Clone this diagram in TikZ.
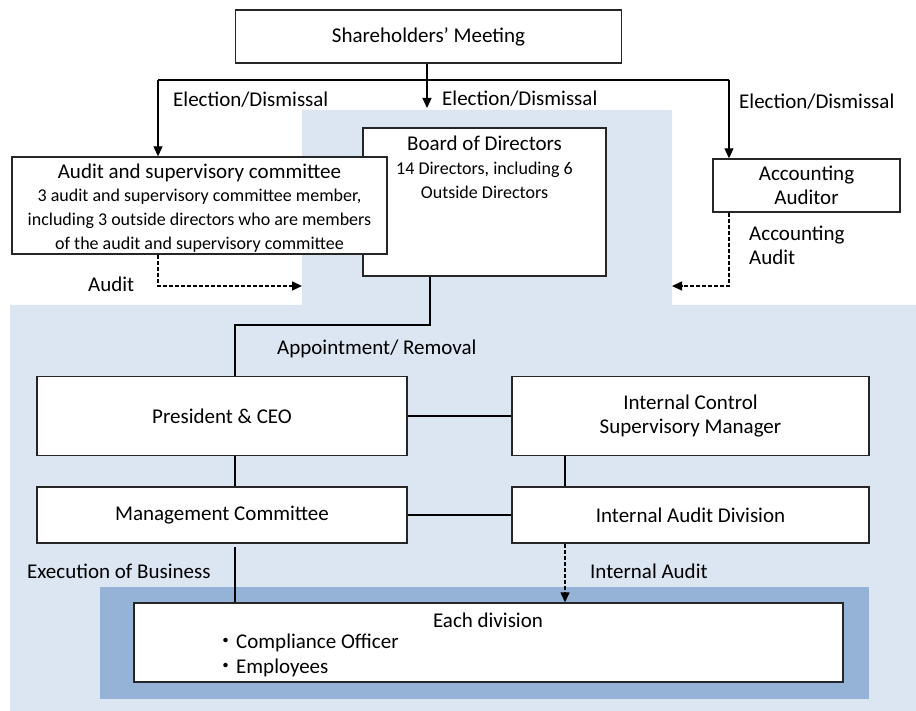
\documentclass[tikz,border=0pt]{standalone}
\usepackage{fontspec}
\setmainfont{Carlito}
\newfontfamily\cjk{Noto Sans CJK JP}
\usetikzlibrary{arrows.meta}
\definecolor{paleblue}{HTML}{DCE6F2}
\definecolor{midblue}{HTML}{95B3D7}
\begin{document}
\begin{tikzpicture}[x=1pt,y=-1pt,
  box/.style={draw=black!85, line width=1.4pt, fill=white, inner sep=0pt},
  conn/.style={line width=1.1pt},
  arr/.style={conn, -{Triangle[width=9pt,length=10pt]}},
  darr/.style={arr, line width=1.4pt, dash pattern=on 4pt off 2pt},
  big/.style={font=\fontsize{21}{24}\selectfont},
  small/.style={font=\fontsize{18}{24}\selectfont},
  lbl/.style={big, inner sep=0pt, anchor=west},
  txt/.style={inner sep=0pt, align=center}
]
\useasboundingbox (0,0) rectangle (916,711);

% shaded areas
\fill[paleblue] (302,110) -- (672,110) -- (672,305) -- (916,305) -- (916,711)
  -- (10,711) -- (10,305) -- (302,305) -- cycle;
\fill[midblue] (100,587) rectangle (869,699);

% boxes
\node[box, big, minimum width=386pt, minimum height=53pt] (sh) at (428.5,36.5) {Shareholders’ Meeting};

\node[box, minimum width=243pt, minimum height=148pt] (board) at (484.5,202) {};
\node[txt, big] (boardttl) at (484.5,143) {Board of Directors};
\node[txt, small] (boardsub) at (484.5,180) {14 Directors, including 6\\Outside Directors};

\node[box, minimum width=375pt, minimum height=97pt] (audit) at (199.5,205.5) {};
\node[txt, big] (auditttl) at (199.5,173) {Audit and supervisory committee};
\node[txt, small] (auditsub) at (199.5,221) {3 audit and supervisory committee member,\\including 3 outside directors who are members\\of the audit and supervisory committee};

\node[box, big, align=center, minimum width=187pt, minimum height=53pt] (acc) at (806.5,185.5) {Accounting\\Auditor};

\node[box, big, minimum width=370pt, minimum height=79pt] (pres) at (222,416) {President \& CEO};
\node[box, big, align=center, minimum width=357pt, minimum height=79pt] (icsm) at (690.5,416) {Internal Control\\Supervisory Manager};
\node[box, big, minimum width=370pt, minimum height=56pt] (mgmt) at (222,515) {Management Committee};
\node[box, big, minimum width=357pt, minimum height=56pt] (iad) at (690.5,515) {Internal Audit Division};

\node[box, minimum width=709pt, minimum height=79pt] (div) at (488.5,642.5) {};
\node[txt, big] (divttl) at (488,620) {Each division};
\node[lbl] (divco) at (215,643) {{\cjk ・}Compliance Officer};
\node[lbl] (divemp) at (215,668) {{\cjk ・}Employees};

% routing points
\coordinate (busL) at (158,80);
\coordinate (busR) at (729,80);
\coordinate (bdin) at (427,108);
\coordinate (auditTip) at (302,286);
\coordinate (accTip) at (672,286);
\coordinate (bd) at (430,325);
\coordinate (pd) at (235,325);
\coordinate (ia) at (565,571);
\coordinate (exe) at (235,547);

% election / dismissal
\draw[conn] (busL) -- (busR);
\draw[arr] (sh.south -| bdin) -- (bdin);
\draw[arr] (busL) -- (busL |- audit.north);
\draw[arr] (busR) -- (busR |- acc.north);

% audits
\draw[darr] (audit.south -| busL) -- (busL |- auditTip) -- (auditTip);
\draw[darr] (acc.south -| busR) -- (busR |- accTip) -- (accTip);

% appointment and execution lines
\draw[conn] (board.south -| bd) -- (bd) -- (pd) -- (pd |- pres.north);
\draw[conn] (pres.east) -- (pres.east -| icsm.west);
\draw[conn] (pres.south -| pd) -- (mgmt.north -| pd);
\draw[conn] (icsm.south -| ia) -- (iad.north -| ia);
\draw[conn] (mgmt.east) -- (iad.west);
\draw[conn] (exe) -- (exe |- div.north);
\draw[darr] (iad.south -| ia) -- (div.north -| ia);

% labels
\node[lbl] (el1) at (173,100) {Election/Dismissal};
\node[lbl] (el2) at (442,99) {Election/Dismissal};
\node[lbl] (el3) at (739,102) {Election/Dismissal};
\node[lbl] (auditlbl) at (88,284) {Audit};
\node[lbl, align=left] (acclbl) at (749,245) {Accounting\\Audit};
\node[lbl] (applbl) at (277,349) {Appointment/ Removal};
\node[lbl] (exelbl) at (27,571) {Execution of Business};
\node[lbl] (ialbl) at (590,571) {Internal Audit};
\end{tikzpicture}
\end{document}
